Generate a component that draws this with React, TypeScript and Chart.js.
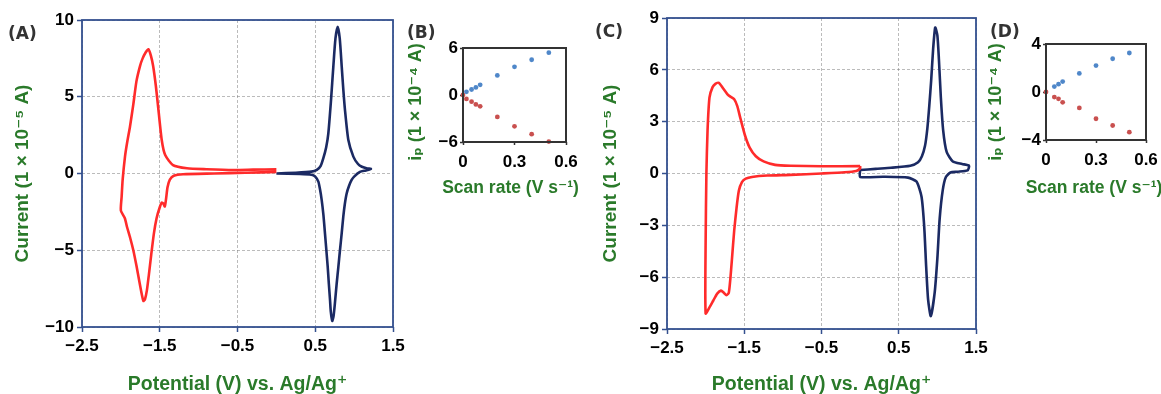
import React, { useEffect, useRef } from 'react';
import { Chart, registerables } from 'chart.js';

Chart.register(...registerables);

// ---------- Panel A: cyclic voltammogram ----------
const aRedV = [0.0, -0.3, -0.55, -0.9, -1.15, -1.33, -1.43, -1.475, -1.52, -1.55, -1.585, -1.615, -1.647, -1.68, -1.72, -1.754, -1.8, -1.84, -1.883, -1.92, -1.947, -1.977, -1.99, -2.0,
  -1.95, -1.92, -1.88, -1.84, -1.8, -1.76, -1.73, -1.71, -1.69, -1.665, -1.64, -1.61, -1.575, -1.54, -1.5, -1.475, -1.455, -1.435, -1.42, -1.4, -1.37, -1.32, -1.2, -0.8, -0.4, 0.0];
const aRedI = [0.27, 0.25, 0.23, 0.28, 0.34, 0.55, 1.2, 2.2, 4.3, 5.7, 7.0, 7.7, 8.1, 7.9, 7.5, 7.0, 6.0, 4.5, 3.05, 2.0, 1.1, -0.4, -1.5, -2.42,
  -2.9, -3.5, -4.2, -5.0, -6.0, -7.1, -7.9, -8.3, -8.2, -7.6, -6.6, -5.3, -3.9, -2.9, -2.2, -1.9, -1.95, -2.15, -1.7, -0.9, -0.4, -0.15, -0.05, 0.0, 0.05, 0.1];
const aBlueV = [0.0, 0.25, 0.45, 0.52, 0.57, 0.604, 0.64, 0.668, 0.703, 0.733, 0.76, 0.789, 0.815, 0.84, 0.862, 0.883, 0.925, 0.99, 1.05, 1.1, 1.17, 1.216,
  1.15, 1.075, 1.0, 0.968, 0.935, 0.904, 0.88, 0.861, 0.84, 0.818, 0.797, 0.776, 0.75, 0.735, 0.719, 0.7, 0.69, 0.675, 0.66, 0.625, 0.605, 0.583, 0.56, 0.54, 0.5, 0.45, 0.3, 0.0];
const aBlueI = [0.0, 0.05, 0.12, 0.23, 0.5, 1.0, 1.7, 2.6, 4.8, 7.0, 8.8, 9.56, 8.8, 7.0, 5.4, 4.1, 2.2, 1.1, 0.62, 0.44, 0.33, 0.3,
  0.2, 0.1, -0.2, -0.42, -0.8, -1.3, -2.0, -2.8, -3.9, -5.0, -6.1, -7.15, -8.6, -9.3, -9.6, -9.0, -8.24, -7.2, -6.07, -3.9, -2.7, -1.73, -1.0, -0.53, -0.2, -0.08, -0.03, 0.0];

// ---------- Panel C: cyclic voltammogram ----------
const cRedV = [0.0, -0.5, -0.9, -1.1, -1.25, -1.35, -1.43, -1.49, -1.55, -1.59, -1.63, -1.68, -1.72, -1.77, -1.83, -1.87, -1.91, -1.95, -1.975, -1.99, -2.0, -2.0,
  -1.95, -1.9, -1.85, -1.8, -1.765, -1.73, -1.7, -1.68, -1.66, -1.63, -1.6, -1.57, -1.53, -1.48, -1.4, -1.2, -0.9, -0.5, -0.2, -0.05, 0.0, 0.0];
const cRedI = [0.43, 0.42, 0.45, 0.5, 0.7, 1.0, 1.5, 2.2, 3.2, 3.9, 4.3, 4.45, 4.6, 4.9, 5.25, 5.2, 5.0, 4.4, 2.5, 0.0, -4.0, -8.1,
  -7.75, -7.35, -6.95, -6.78, -6.9, -7.05, -6.9, -6.1, -5.0, -3.3, -2.0, -1.0, -0.5, -0.3, -0.2, -0.12, -0.08, 0.0, 0.07, 0.15, 0.3, 0.43];
const cBlueV = [0.0, 0.2, 0.4, 0.65, 0.75, 0.8, 0.84, 0.87, 0.895, 0.92, 0.945, 0.972, 1.0, 1.02, 1.045, 1.075, 1.12, 1.2, 1.32, 1.41,
  1.39, 1.26, 1.17, 1.11, 1.07, 1.03, 1.0, 0.965, 0.915, 0.88, 0.855, 0.83, 0.795, 0.73, 0.62, 0.3, 0.0, 0.0];
const cBlueI = [0.2, 0.27, 0.33, 0.45, 0.65, 1.0, 1.6, 2.6, 3.9, 5.4, 7.2, 8.45, 8.0, 6.6, 4.4, 2.5, 1.25, 0.7, 0.55, 0.45,
  0.18, 0.1, 0.06, -0.2, -0.95, -2.6, -4.9, -6.9, -8.25, -7.3, -5.4, -3.1, -1.35, -0.47, -0.24, -0.19, -0.2, 0.2];

// ---------- Panel B: peak current vs scan rate ----------
const bRateBlue = [0.02, 0.05, 0.075, 0.1, 0.2, 0.3, 0.4, 0.5];
const bBlue = [0.4, 0.7, 0.97, 1.3, 2.5, 3.6, 4.5, 5.4];
const bRateRed = [0, 0.02, 0.05, 0.075, 0.1, 0.2, 0.3, 0.4, 0.5];
const bRed = [0, -0.5, -0.85, -1.2, -1.45, -2.8, -4.0, -5.0, -5.95];

// ---------- Panel D: peak current vs scan rate ----------
const dRateBlue = [0.05, 0.075, 0.1, 0.2, 0.3, 0.4, 0.5];
const dBlue = [0.45, 0.65, 0.87, 1.55, 2.2, 2.77, 3.25];
const dRateRed = [0, 0.05, 0.075, 0.1, 0.2, 0.3, 0.4, 0.5];
const dRed = [0, -0.42, -0.57, -0.86, -1.33, -2.23, -2.79, -3.35];

// ---------- axes / labels ----------
const cvXRange = [-2.5, 1.5];
const cvXStep = 1;
const aYRange = [-10, 10];
const aYStep = 5;
const cYRange = [-9, 9];
const cYStep = 3;
const bXRange = [0, 0.6];
const bXStep = 0.3;
const bYRange = [-6, 6];
const bYStep = 6;
const dYRange = [-4, 4];
const dYStep = 4;

const cvXTitle = 'Potential (V) vs. Ag/Ag\u207A';
const aYTitle = 'Current (1 \u00D7 10\u207B\u2075 A)';
const insetXTitle = 'Scan rate (V s\u207B\u00B9)';
const insetYTitle = 'i\u209A (1 \u00D7 10\u207B\u2074 A)';

const FONT = "'Liberation Sans', Arial, 'DejaVu Sans', sans-serif";
const GREEN = '#2a7a2a';
const FRAME = '#34508f';
const RED = '#ff2b2b';
const NAVY = '#1b2a63';
const PT_BLUE = '#4f87c9';
const PT_RED = '#c9504f';
const GRID = 'rgba(120,120,120,0.5)';

const fmt = (v: number | string) => {
  const n = Number(v);
  let s: string;
  if (Math.abs(n) < 1e-9) s = '0';
  else if (Math.abs(n - Math.round(n)) < 1e-9) s = String(Math.round(n));
  else s = n.toFixed(1);
  return s.replace('-', '\u2212');
};

const zip = (xs: number[], ys: number[]) => xs.map((x, i) => ({ x, y: ys[i] }));

const framePlugin = {
  id: 'frame',
  afterDatasetsDraw(chart: any, _args: any, opts: any) {
    const { ctx, chartArea } = chart;
    const { left, top, right, bottom } = chartArea;
    ctx.save();
    ctx.strokeStyle = opts.color;
    ctx.lineWidth = opts.width;
    ctx.strokeRect(left, top, right - left, bottom - top);
    ctx.restore();
  },
};

// draws the inset axis titles freely (no width squeeze, custom offsets)
const insetTitlePlugin = {
  id: 'insetTitle',
  afterDraw(chart: any, _args: any, opts: any) {
    if (!opts || !opts.xText) return;
    const { ctx, chartArea } = chart;
    ctx.save();
    ctx.fillStyle = opts.color;
    ctx.textAlign = 'center';
    ctx.textBaseline = 'middle';
    ctx.font = `bold ${opts.xSize}px ${FONT}`;
    ctx.fillText(opts.xText, (chartArea.left + chartArea.right) / 2 + opts.xDx, opts.xY);
    ctx.translate(opts.yX, (chartArea.top + chartArea.bottom) / 2 + opts.yDy);
    ctx.rotate(-Math.PI / 2);
    ctx.font = `bold ${opts.ySize}px ${FONT}`;
    ctx.fillText(opts.yText, 0, 0);
    ctx.restore();
  },
};

type Box = { padTop: number; padRight: number; yW: number; xH: number };

function axisFont(size: number, lh = 1.2) {
  return { family: FONT, size, weight: 'bold' as const, lineHeight: lh };
}

function buildCV(canvas: HTMLCanvasElement, box: Box, yRange: number[], yStep: number,
  redV: number[], redI: number[], blueV: number[], blueI: number[], yTitlePad: number) {
  return new Chart(canvas, {
    type: 'scatter',
    data: {
      datasets: [
        { data: zip(redV, redI), showLine: true, borderColor: RED, borderWidth: 2.6, pointRadius: 0, tension: 0.2, fill: false },
        { data: zip(blueV, blueI), showLine: true, borderColor: NAVY, borderWidth: 2.6, pointRadius: 0, tension: 0.2, fill: false },
      ],
    },
    options: {
      responsive: false,
      animation: false,
      devicePixelRatio: 1,
      events: [],
      layout: { padding: { left: 0, top: box.padTop, right: box.padRight, bottom: 0 } },
      plugins: { legend: { display: false }, tooltip: { enabled: false }, frame: { color: FRAME, width: 1.8 } } as any,
      scales: {
        x: {
          type: 'linear', min: cvXRange[0], max: cvXRange[1],
          ticks: { stepSize: cvXStep, font: axisFont(17), color: '#000', padding: 4, autoSkip: false, maxRotation: 0, callback: fmt },
          grid: { color: GRID, lineWidth: 1, tickLength: 5, tickColor: FRAME, tickWidth: 1.5, tickBorderDash: [] },
          border: { display: false, dash: [3, 2] },
          title: { display: true, text: cvXTitle, color: GREEN, font: axisFont(19.5, 1), padding: { top: 0, bottom: 0 } },
          afterFit: (s: any) => { s.height = box.xH; s.paddingLeft = 0; s.paddingRight = 0; },
        },
        y: {
          type: 'linear', min: yRange[0], max: yRange[1],
          ticks: { stepSize: yStep, font: axisFont(17), color: '#000', padding: 3, autoSkip: false, callback: fmt },
          grid: { color: GRID, lineWidth: 1, tickLength: 5, tickColor: FRAME, tickWidth: 1.5, tickBorderDash: [] },
          border: { display: false, dash: [3, 2] },
          title: { display: true, text: aYTitle, color: GREEN, font: axisFont(19, 1), padding: { top: yTitlePad, bottom: 0 } },
          afterFit: (s: any) => { s.width = box.yW; s.paddingTop = 0; s.paddingBottom = 0; },
        },
      },
    } as any,
    plugins: [framePlugin],
  });
}

function buildInset(canvas: HTMLCanvasElement, box: Box, yRange: number[], yStep: number,
  rb: number[], vb: number[], rr: number[], vr: number[], titleDx: number, yTitleDy: number) {
  return new Chart(canvas, {
    type: 'scatter',
    data: {
      datasets: [
        { data: zip(rb, vb), pointRadius: 2.4, pointBackgroundColor: PT_BLUE, pointBorderWidth: 0, clip: false } as any,
        { data: zip(rr, vr), pointRadius: 2.4, pointBackgroundColor: PT_RED, pointBorderWidth: 0, clip: false } as any,
      ],
    },
    options: {
      responsive: false,
      animation: false,
      devicePixelRatio: 1,
      events: [],
      layout: { padding: { left: 0, top: box.padTop, right: box.padRight, bottom: 0 } },
      plugins: {
        legend: { display: false }, tooltip: { enabled: false },
        frame: { color: '#333', width: 2 },
        insetTitle: {
          color: GREEN,
          xText: insetXTitle, xSize: 17.5, xY: 188, xDx: titleDx,
          yText: insetYTitle, ySize: 18, yX: 16, yDy: yTitleDy,
        },
      } as any,
      scales: {
        x: {
          type: 'linear', min: bXRange[0], max: bXRange[1],
          ticks: { stepSize: bXStep, font: axisFont(17), color: '#000', padding: 7, autoSkip: false, maxRotation: 0, callback: fmt },
          grid: { display: true, drawOnChartArea: false, tickLength: 3, tickColor: '#333', tickWidth: 1.5 },
          border: { display: false },
          title: { display: false },
          afterFit: (s: any) => { s.height = box.xH; s.paddingLeft = 0; s.paddingRight = 0; },
        },
        y: {
          type: 'linear', min: yRange[0], max: yRange[1],
          ticks: { stepSize: yStep, font: axisFont(17), color: '#000', padding: 2, autoSkip: false, callback: fmt },
          grid: { display: true, drawOnChartArea: false, tickLength: 3, tickColor: '#333', tickWidth: 1.5 },
          border: { display: false },
          title: { display: false },
          afterFit: (s: any) => { s.width = box.yW; s.paddingTop = 0; s.paddingBottom = 0; },
        },
      },
    } as any,
    plugins: [framePlugin, insetTitlePlugin],
  });
}

function Panel(props: { left: number; top: number; width: number; height: number; build: (c: HTMLCanvasElement) => Chart }) {
  const ref = useRef<HTMLCanvasElement>(null);
  useEffect(() => {
    const ch = props.build(ref.current!);
    return () => ch.destroy();
  }, []);
  return (
    <canvas ref={ref} width={props.width} height={props.height}
      style={{ position: 'absolute', left: props.left, top: props.top, width: props.width, height: props.height }} />
  );
}

const labelStyle = (left: number, top: number): React.CSSProperties => ({
  position: 'absolute', left, top, fontFamily: "'DejaVu Sans', Verdana, sans-serif", fontWeight: 'bold',
  fontSize: 17, lineHeight: '18px', color: '#333', whiteSpace: 'nowrap',
});

export default function App() {
  return (
    <div style={{ position: 'absolute', left: 0, top: 0, width: 1161, height: 394, background: '#fff', overflow: 'hidden' }}>
      <Panel left={0} top={0} width={412} height={394}
        build={(c) => buildCV(c, { padTop: 20, padRight: 19, yW: 82, xH: 67 }, aYRange, aYStep, aRedV, aRedI, aBlueV, aBlueI, 13)} />
      <Panel left={590} top={0} width={410} height={394}
        build={(c) => buildCV(c, { padTop: 18, padRight: 24, yW: 77, xH: 65 }, cYRange, cYStep, cRedV, cRedI, cBlueV, cBlueI, 11)} />
      <Panel left={400} top={0} width={180} height={200}
        build={(c) => buildInset(c, { padTop: 48, padRight: 14, yW: 63, xH: 58 }, bYRange, bYStep, bRateBlue, bBlue, bRateRed, bRed, -4, 7)} />
      <Panel left={980} top={0} width={181} height={200}
        build={(c) => buildInset(c, { padTop: 44, padRight: 15, yW: 66, xH: 60 }, dYRange, dYStep, dRateBlue, dBlue, dRateRed, dRed, -2, 10)} />
      <div style={labelStyle(8, 24)}>(A)</div>
      <div style={labelStyle(407, 23)}>(B)</div>
      <div style={labelStyle(595, 22)}>(C)</div>
      <div style={labelStyle(990, 22)}>(D)</div>
    </div>
  );
}
